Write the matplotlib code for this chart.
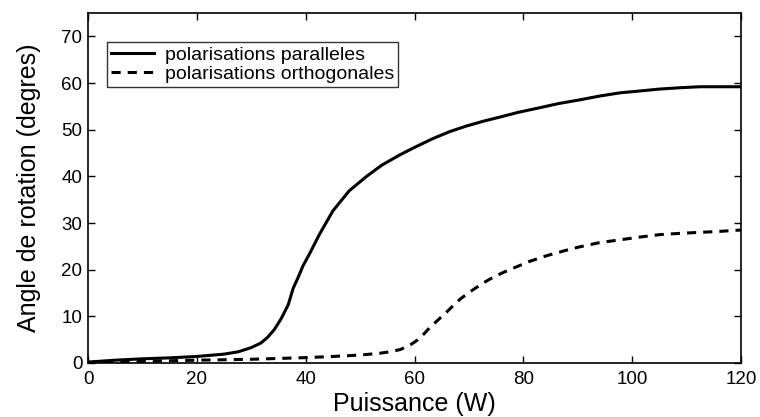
import matplotlib
matplotlib.use("Agg")
import matplotlib.pyplot as plt

plt.rcParams['font.family'] = ['Liberation Sans', 'DejaVu Sans']

# Data
x_par = [0, 5, 10, 15, 20, 25, 27.6, 30, 31.8, 33, 34.2, 35.5, 36.8, 37.7, 38.6, 39.5, 40.8,
         42.5, 45, 48, 51.2, 54, 57.3, 60, 63.4, 66.5, 69.6, 72.6, 75.7, 79, 83, 86.5, 90.4,
         94, 97.8, 101.5, 105, 109, 112.5, 116, 120]
y_par = [0.2, 0.6, 0.9, 1.1, 1.4, 1.9, 2.4, 3.3, 4.3, 5.5, 7.1, 9.5, 12.5, 16.0, 18.3, 20.8, 23.6,
         27.5, 32.6, 36.9, 40.0, 42.4, 44.6, 46.2, 48.1, 49.6, 50.8, 51.8, 52.7, 53.7, 54.7, 55.6, 56.4,
         57.2, 57.9, 58.3, 58.7, 59.0, 59.2, 59.2, 59.2]

x_orth = [0, 10, 20, 30, 40, 45, 50, 53.7, 56, 57.4, 59, 60.4, 61.7, 62.9, 64.4, 65.9, 67.2, 68.4,
          70, 71.4, 73, 74.5, 76.3, 78.1, 81.2, 84.3, 88, 90.4, 94, 97.8, 101.5, 105, 109, 112.5, 116, 120]
y_orth = [0.1, 0.35, 0.6, 0.8, 1.15, 1.4, 1.7, 2.1, 2.5, 2.9, 3.7, 4.8, 6.2, 7.7, 9.3, 10.9, 12.4, 13.7,
          15.1, 16.2, 17.4, 18.4, 19.4, 20.3, 21.8, 23.0, 24.2, 24.9, 25.8, 26.4, 27.0, 27.5, 27.8, 28.0, 28.2, 28.5]

labels = ["polarisations paralleles", "polarisations orthogonales"]
x_ticks = [0, 20, 40, 60, 80, 100, 120]
y_ticks = [0, 10, 20, 30, 40, 50, 60, 70]

fig = plt.figure(figsize=(7.6, 4.17), dpi=100)
ax = fig.add_axes([0.1158, 0.1295, 0.975 - 0.1158, 0.9688 - 0.1295])

ax.plot(x_par, y_par, color='black', lw=2.2, ls='-', label=labels[0])
ax.plot(x_orth, y_orth, color='black', lw=2.2, ls=(0, (3.0, 2.3)), label=labels[1])

ax.set_xlim(0, 120)
ax.set_ylim(0, 75)
ax.set_xticks(x_ticks)
ax.set_yticks(y_ticks)
ax.tick_params(direction='in', top=True, right=True, length=5, width=1, labelsize=13.5)
ax.tick_params(axis='x', pad=6)
ax.tick_params(axis='y', pad=4)
for s in ax.spines.values():
    s.set_linewidth(1.2)

ax.set_xlabel("Puissance (W)", fontsize=18, labelpad=2.5)
ax.set_ylabel("Angle de rotation (degres)", fontsize=18, labelpad=15)

leg = ax.legend(loc='upper left', bbox_to_anchor=(0.029, 0.917), fontsize=14,
                frameon=True, fancybox=False, edgecolor='black', handlelength=2.2,
                borderpad=0.2, labelspacing=0.1, handletextpad=0.6, borderaxespad=0)
leg.get_frame().set_linewidth(1)

fig.savefig("out.png", dpi=100)
